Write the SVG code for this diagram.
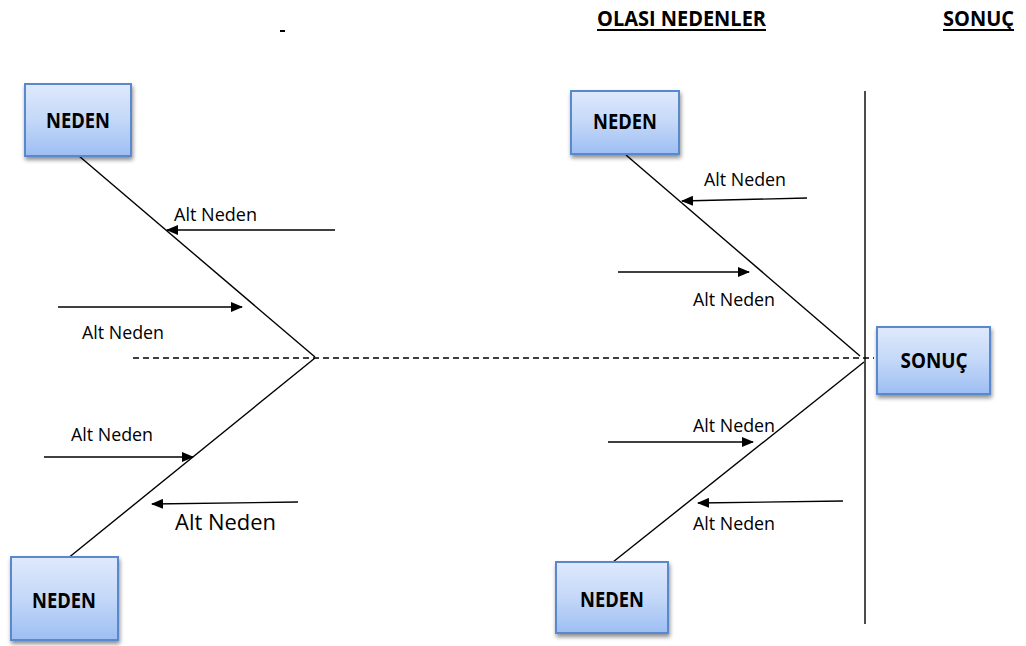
<svg xmlns="http://www.w3.org/2000/svg" width="1026" height="646" viewBox="0 0 1026 646">
  <defs>
    <linearGradient id="boxFill" x1="0" y1="0" x2="0" y2="1">
      <stop offset="0" stop-color="#dfe9fc"/>
      <stop offset="0.5" stop-color="#c4d8f8"/>
      <stop offset="1" stop-color="#9dbef3"/>
    </linearGradient>
    <filter id="shadow" x="-10%" y="-10%" width="125%" height="130%">
      <feGaussianBlur in="SourceAlpha" stdDeviation="2"/>
      <feOffset dx="1" dy="3" result="off"/>
      <feComponentTransfer><feFuncA type="linear" slope="0.45"/></feComponentTransfer>
      <feMerge><feMergeNode/><feMergeNode in="SourceGraphic"/></feMerge>
    </filter>
    <marker id="arrow" viewBox="0 0 12 10" refX="11" refY="5" markerWidth="12" markerHeight="10" markerUnits="userSpaceOnUse" orient="auto">
      <path d="M0,0 L12,5 L0,10 Z" fill="#000"/>
    </marker>
  </defs>
  <style>
    .box { fill: url(#boxFill); stroke: #5a88cc; stroke-width: 2; filter: url(#shadow); }
    .boxText { font-family: "Open Sans", "Liberation Sans", Arial, sans-serif; font-weight: bold; font-size: 21px; fill: #000; text-anchor: middle; }
    .head { font-family: "Open Sans", "Liberation Sans", Arial, sans-serif; font-weight: bold; font-size: 21px; fill: #000; }
    .lbl { font-family: "Open Sans", "Liberation Sans", Arial, sans-serif; font-size: 18px; fill: #000; }
    .lblBig { font-family: "Open Sans", "Liberation Sans", Arial, sans-serif; font-size: 22px; fill: #000; }
    .bone { stroke: #000; stroke-width: 1.4; fill: none; }
    .spine { stroke: #000; stroke-width: 1.4; stroke-dasharray: 6 4; fill: none; }
    .sub { stroke: #000; stroke-width: 1.4; fill: none; marker-end: url(#arrow); }
    .ul { stroke: #000; stroke-width: 2; }
  </style>

  <!-- headings -->
  <g id="headings">
    <line class="ul" x1="280" y1="31" x2="285" y2="31"/>
    <text class="head" x="597" y="26" textLength="169" lengthAdjust="spacingAndGlyphs">OLASI NEDENLER</text>
    <line class="ul" x1="597" y1="30" x2="766" y2="30"/>
    <text class="head" x="943" y="26" textLength="71" lengthAdjust="spacingAndGlyphs">SONUÇ</text>
    <line class="ul" x1="943" y1="30" x2="1014" y2="30"/>
  </g>

  <!-- connectors: spine, bones and sub-cause arrows -->
  <g id="connectors">
    <line class="spine" x1="133" y1="358" x2="874" y2="358"/>
    <line class="bone" x1="865" y1="91" x2="865" y2="624"/>
    <line class="bone" x1="79" y1="156" x2="315" y2="357"/>
    <line class="bone" x1="315" y1="358" x2="67" y2="559"/>
    <line class="bone" x1="626" y1="155" x2="860" y2="356"/>
    <line class="bone" x1="864" y1="362" x2="613" y2="562"/>

    <line class="sub" x1="335" y1="230" x2="167" y2="230"/>
    <line class="sub" x1="58" y1="307" x2="242" y2="307"/>
    <line class="sub" x1="44" y1="457" x2="193" y2="457"/>
    <line class="sub" x1="298" y1="502" x2="152" y2="504"/>

    <line class="sub" x1="807" y1="198" x2="682" y2="201"/>
    <line class="sub" x1="618" y1="272" x2="749" y2="272"/>
    <line class="sub" x1="608" y1="442" x2="753" y2="442"/>
    <line class="sub" x1="843" y1="501" x2="698" y2="503"/>
  </g>

  <!-- sub-cause labels -->
  <g id="labels">
    <text class="lbl" x="174" y="221" textLength="83" lengthAdjust="spacingAndGlyphs">Alt Neden</text>
    <text class="lbl" x="82" y="339" textLength="82" lengthAdjust="spacingAndGlyphs">Alt Neden</text>
    <text class="lbl" x="71" y="441" textLength="82" lengthAdjust="spacingAndGlyphs">Alt Neden</text>
    <text class="lblBig" x="175" y="530" textLength="101" lengthAdjust="spacingAndGlyphs">Alt Neden</text>
    <text class="lbl" x="704" y="186" textLength="82" lengthAdjust="spacingAndGlyphs">Alt Neden</text>
    <text class="lbl" x="693" y="306" textLength="82" lengthAdjust="spacingAndGlyphs">Alt Neden</text>
    <text class="lbl" x="693" y="432" textLength="82" lengthAdjust="spacingAndGlyphs">Alt Neden</text>
    <text class="lbl" x="693" y="530" textLength="82" lengthAdjust="spacingAndGlyphs">Alt Neden</text>
  </g>

  <!-- cause and effect boxes -->
  <g id="neden-top-left">
    <rect class="box" x="25" y="84" width="106" height="72"/>
    <text class="boxText" x="78" y="128" textLength="64" lengthAdjust="spacingAndGlyphs">NEDEN</text>
  </g>
  <g id="neden-bottom-left">
    <rect class="box" x="11" y="557" width="107" height="83"/>
    <text class="boxText" x="64" y="608" textLength="64" lengthAdjust="spacingAndGlyphs">NEDEN</text>
  </g>
  <g id="neden-top-right">
    <rect class="box" x="571" y="91" width="108" height="63"/>
    <text class="boxText" x="625" y="129" textLength="64" lengthAdjust="spacingAndGlyphs">NEDEN</text>
  </g>
  <g id="neden-bottom-right">
    <rect class="box" x="556" y="562" width="112" height="71"/>
    <text class="boxText" x="612" y="607" textLength="64" lengthAdjust="spacingAndGlyphs">NEDEN</text>
  </g>
  <g id="sonuc">
    <rect class="box" x="877" y="327" width="113" height="67"/>
    <text class="boxText" x="934" y="368" textLength="67" lengthAdjust="spacingAndGlyphs">SONUÇ</text>
  </g>
</svg>
